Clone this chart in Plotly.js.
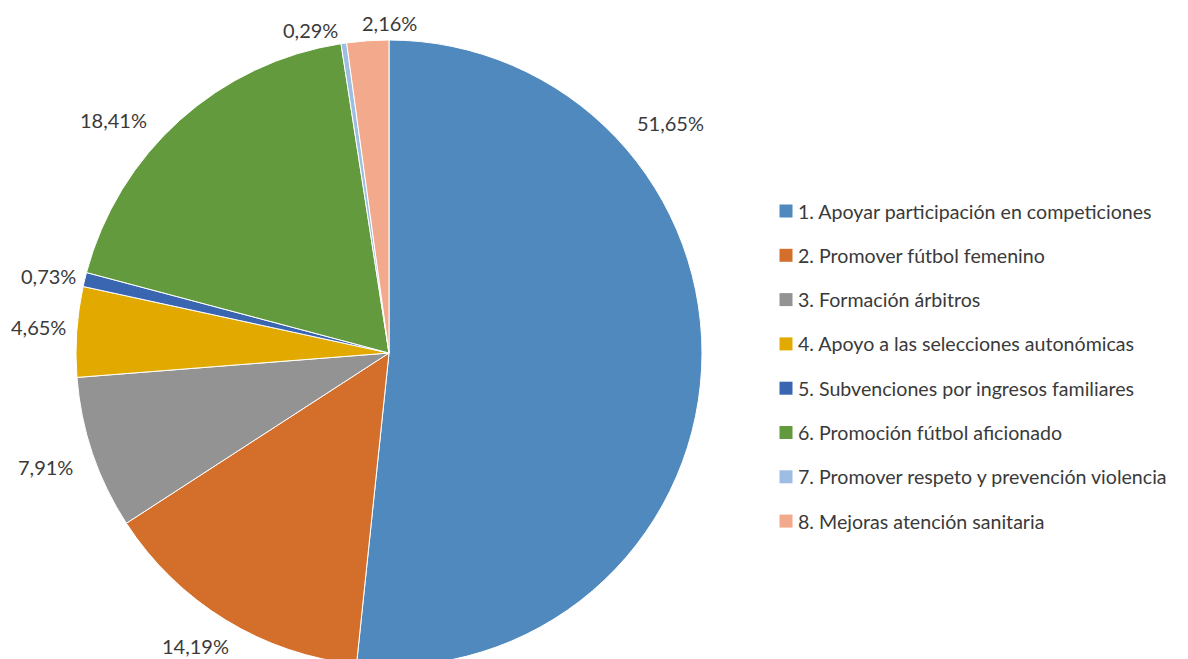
<!DOCTYPE html>
<html>
<head>
<meta charset="utf-8">
<script src="https://cdn.plot.ly/plotly-3.0.1.min.js"></script>
<style>
html, body { margin:0; padding:0; background:#fff; overflow:hidden; }
#wrap { width:1188px; height:659px; overflow:hidden; }
#chart { width:1188px; height:672px; }
</style>
</head>
<body>
<div id="wrap"><div id="chart"></div></div>
<script>
// Data
const categories = [
  "1. Apoyar participación en competiciones",
  "2. Promover fútbol femenino",
  "3. Formación árbitros",
  "4. Apoyo a las selecciones autonómicas",
  "5. Subvenciones por ingresos familiares",
  "6. Promoción fútbol aficionado",
  "7. Promover respeto y prevención violencia",
  "8. Mejoras atención sanitaria"
];
const values = [51.65, 14.19, 7.91, 4.65, 0.73, 18.41, 0.29, 2.16];
const colors = ["#4F89BD", "#D46E2B", "#939393", "#E2AA00", "#3A65B0", "#629A3D", "#9DBDE3", "#F2A98C"];

// Layout helpers (pixel positions of labels and legend)
const W = 1188, H = 672;
const labelPos = [[670,123],[195,646],[45,467],[38,327],[48,276],[113,120],[310,30],[389,23]];
const legendX = 786, legendY0 = 211, legendStep = 44.3;
const FONT = "Lato, 'Open Sans', sans-serif";

const fmt = v => v.toFixed(2).replace('.', ',') + '%';
const px = x => x / W;
const py = y => 1 - y / H;

const annotations = [];
const shapes = [];
values.forEach((v, i) => {
  annotations.push({
    xref:'paper', yref:'paper', x: px(labelPos[i][0]), y: py(labelPos[i][1]),
    xanchor:'center', yanchor:'middle', showarrow:false,
    text: fmt(v), font:{family:FONT, size:20, color:'#3a3a3a'}
  });
});
categories.forEach((c, i) => {
  const yc = legendY0 + i * legendStep;
  shapes.push({
    type:'rect', xref:'paper', yref:'paper',
    x0: px(legendX - 6.5), x1: px(legendX + 6.5), y0: py(yc + 6.5), y1: py(yc - 6.5),
    fillcolor: colors[i], line:{width:0}
  });
  annotations.push({
    xref:'paper', yref:'paper', x: px(legendX + 10), y: py(yc),
    xanchor:'left', yanchor:'middle', showarrow:false,
    text: c, font:{family:FONT, size:19.6, color:'#3a3a3a'}
  });
});

const cy = 353, r = 313, cx = 389;
const trace = {
  type:'pie',
  labels: categories,
  values: values,
  sort:false,
  direction:'clockwise',
  rotation:0,
  textinfo:'none',
  hoverinfo:'label+percent',
  marker:{colors: colors, line:{color:'#ffffff', width:1}},
  domain:{x:[px(cx - r), px(cx + r)], y:[py(cy + r), py(cy - r)]},
  showlegend:false
};

Plotly.newPlot('chart', [trace], {
  width:W, height:H,
  margin:{l:0, r:0, t:0, b:0},
  paper_bgcolor:'#fff',
  showlegend:false,
  annotations: annotations,
  shapes: shapes
}, {displayModeBar:false, staticPlot:true});
</script>
</body>
</html>
